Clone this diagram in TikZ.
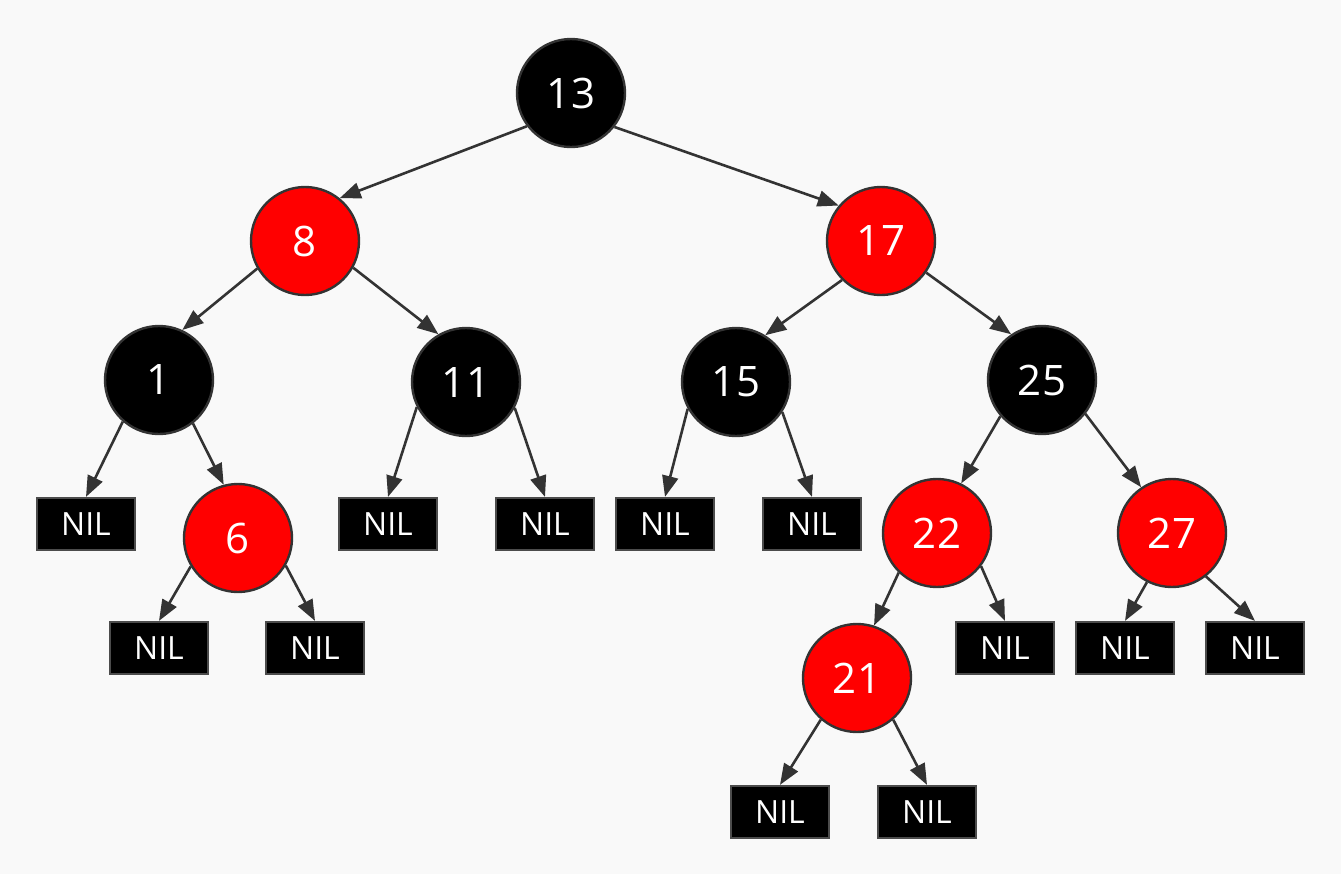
\documentclass[tikz,border=0pt]{standalone}
\usepackage{fontspec}
\setmainfont{Open Sans}
\usepackage{tikz}
\usetikzlibrary{arrows.meta}

\definecolor{bgcol}{HTML}{F9F9F9}
\definecolor{linecol}{HTML}{333333}
\definecolor{rbred}{HTML}{FF0000}

\tikzset{
	rbnode/.style={circle, draw=linecol, line width=1.2pt, minimum size=54pt, inner sep=0pt, text=white, font=\fontsize{21}{24}\selectfont},
	blk/.style={rbnode, fill=black},
	rd/.style={rbnode, fill=rbred},
	nil/.style={rectangle, draw=black!70, line width=1.1pt, fill=black, minimum width=49pt, minimum height=26pt, inner sep=0pt, text=white, font=\fontsize{16}{18}\selectfont},
	link/.style={color=linecol, line width=1.3pt, -{Triangle[length=10.5pt,width=8pt]}}
}

\begin{document}
\begin{tikzpicture}[x=0.5pt, y=-0.5pt]
		\fill[bgcol] (0,0) rectangle (1341,874);
		\useasboundingbox (0,0) rectangle (1341,874);
		% keys
		\node[blk] (n13) at (571,93) {13};
		\node[rd]  (n8)  at (305,241) {8};
		\node[rd]  (n17) at (881,241) {17};
		\node[blk] (n1)  at (159,380) {1};
		\node[blk] (n11) at (466,382) {11};
		\node[blk] (n15) at (736,382) {15};
		\node[blk] (n25) at (1042,380) {25};
		\node[rd]  (n6)  at (238,538) {6};
		\node[rd]  (n22) at (937,533) {22};
		\node[rd]  (n27) at (1172,533) {27};
		\node[rd]  (n21) at (857,678) {21};
		% leaves
		\node[nil] (l1a)  at (86,524) {NIL};
		\node[nil] (l11a) at (388,524) {NIL};
		\node[nil] (l11b) at (545,524) {NIL};
		\node[nil] (l15a) at (665,524) {NIL};
		\node[nil] (l15b) at (812,524) {NIL};
		\node[nil] (l6a)  at (159,648) {NIL};
		\node[nil] (l6b)  at (315,648) {NIL};
		\node[nil] (l22b) at (1005,648) {NIL};
		\node[nil] (l27a) at (1125,648) {NIL};
		\node[nil] (l27b) at (1255,648) {NIL};
		\node[nil] (l21a) at (780,812) {NIL};
		\node[nil] (l21b) at (927,812) {NIL};
		\path[link]
		(n13.217) edge (n8.51)
		(n13.322) edge (n17.140)
		(n8.210) edge (n1.65)
		(n8.331) edge (n11.120)
		(n17.225) edge (n15.58)
		(n17.325) edge (n25.124)
		(n1.308) edge (n6.105)
		(n25.221) edge (n22.64)
		(n25.322) edge (n27.124)
		(n22.226) edge (n21.72)
		;
		\path[link]
		(n1.229) edge (l1a.north)
		(n11.207) edge (l11a.north)
		(n11.332) edge (l11b.north)
		(n15.209) edge (l15a.north)
		(n15.327) edge (l15b.north)
		(n6.211) edge (l6a.north)
		(n6.330) edge (l6b.north)
		(n22.323) edge (l22b.north)
		(n27.243) edge (l27a.north)
		(n27.308) edge (l27b.north)
		(n21.229) edge (l21a.north)
		(n21.311) edge (l21b.north)
		;
	\end{tikzpicture}
\end{document}
